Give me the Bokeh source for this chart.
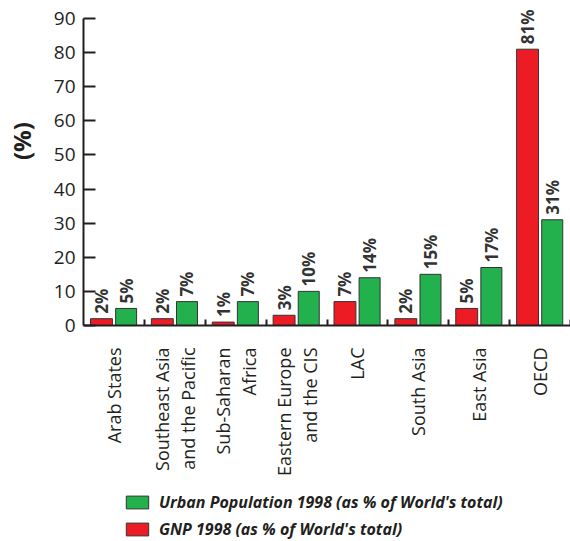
import numpy as np
from bokeh.plotting import figure
from bokeh.layouts import column
from bokeh.models import (ColumnDataSource, Range1d, FixedTicker, Legend, LegendItem)
from bokeh.embed import file_html
from bokeh.resources import INLINE
from bokeh.core.properties import value

regions = ["Arab States", "Southeast Asia\nand the Pacific", "Sub-Saharan\nAfrica",
           "Eastern Europe\nand the CIS", "LAC", "South Asia", "East Asia", "OECD"]
gnp = [2, 2, 1, 3, 7, 2, 5, 81]
urban = [5, 7, 7, 10, 14, 15, 17, 31]
gnp_labels = [f"{v}%" for v in gnp]
urban_labels = [f"{v}%" for v in urban]
y_ticks = [0, 10, 20, 30, 40, 50, 60, 70, 80, 90]
series_names = ["Urban Population 1998 (as % of World's total)",
                "GNP 1998 (as % of World's total)"]

RED = "#ED1C24"
GREEN = "#22B14C"
INK = "#231F20"
FONT = "Open Sans"

idx = np.arange(len(regions))
src = ColumnDataSource(dict(
    xg=idx + 0.295, xu=idx + 0.70,
    gnp=gnp, urban=urban, gl=gnp_labels, ul=urban_labels))

p = figure(width=570, height=490, output_backend="svg", toolbar_location=None,
           x_range=Range1d(0, len(regions)), y_range=Range1d(0, 95.28),
           min_border_left=83, min_border_right=0, min_border_top=0,
           min_border_bottom=165)
p.outline_line_color = None
p.xgrid.visible = False
p.ygrid.visible = False
p.background_fill_color = "white"

rg = p.vbar(x="xg", top="gnp", width=0.36, bottom=0, source=src,
            fill_color=RED, line_color="#333333", line_width=1)
rug = p.vbar(x="xu", top="urban", width=0.345, bottom=0, source=src,
             fill_color=GREEN, line_color="#333333", line_width=1)

for xc, yc, tc in (("xg", "gnp", "gl"), ("xu", "urban", "ul")):
    p.text(x=xc, y=yc, text=tc, source=src, angle=np.pi / 2,
           text_align="left", text_baseline="middle", y_offset=-5,
           text_font=value(FONT), text_font_size="17px", text_font_style="bold",
           text_color="#333333")

# y axis
ya = p.yaxis[0]
ya.ticker = FixedTicker(ticks=y_ticks)
ya.bounds = (0, 90)
ya.axis_line_width = 2
ya.axis_line_color = INK
ya.major_tick_in = 12
ya.major_tick_out = 0
ya.major_tick_line_width = 2
ya.major_tick_line_color = INK
ya.minor_tick_line_color = None
ya.major_label_text_font = FONT
ya.major_label_text_font_size = "19px"
ya.major_label_text_color = INK
ya.major_label_standoff = 8
ya.axis_label = "\u00a0" * 7 + "(%)"
ya.axis_label_text_font = FONT
ya.axis_label_text_font_size = "24px"
ya.axis_label_text_font_style = "bold"
ya.axis_label_text_color = INK
ya.axis_label_standoff = 13

# x axis
xa = p.xaxis[0]
xa.ticker = FixedTicker(ticks=list(idx + 0.5), minor_ticks=list(idx + 1))
xa.major_label_overrides = {float(i + 0.5): r for i, r in enumerate(regions)}
xa.axis_line_width = 2
xa.axis_line_color = INK
xa.major_tick_line_color = None
xa.major_tick_in = 0
xa.major_tick_out = 0
xa.minor_tick_in = 6
xa.minor_tick_out = 0
xa.minor_tick_line_width = 2
xa.minor_tick_line_color = INK
xa.major_label_orientation = np.pi / 2
xa.major_label_text_font = FONT
xa.major_label_text_font_size = "18px"
xa.major_label_text_color = INK
xa.major_label_text_line_height = 1.08
xa.major_label_standoff = 22

# legend strip below the chart; its key bars use the same data but lie
# outside this strip's visible range, so only the legend swatches show
leg = figure(width=570, height=51, output_backend="svg", toolbar_location=None,
             x_axis_type=None, y_axis_type=None,
             x_range=Range1d(0, len(regions)), y_range=Range1d(500, 501),
             min_border_left=83, min_border_right=0, min_border_top=0,
             min_border_bottom=0)
leg.outline_line_color = None
leg.xgrid.visible = False
leg.ygrid.visible = False
key_u = leg.vbar(x="xu", top="urban", width=0.345, bottom=0, source=src,
                 fill_color=GREEN, line_color="#333333", line_width=1)
key_g = leg.vbar(x="xg", top="gnp", width=0.36, bottom=0, source=src,
                 fill_color=RED, line_color="#333333", line_width=1)
legend = Legend(items=[LegendItem(label=series_names[0], renderers=[key_u], index=0),
                       LegendItem(label=series_names[1], renderers=[key_g], index=0)],
                location=(40, 1), orientation="vertical",
                glyph_width=28, glyph_height=16, label_height=22, spacing=5,
                padding=0, margin=0, label_standoff=8,
                label_text_font=FONT, label_text_font_size="16px",
                label_text_font_style="bold italic", label_text_color=INK,
                border_line_color=None, background_fill_alpha=0)
leg.add_layout(legend)

open("out.html", "w").write(file_html(column(p, leg, spacing=0), INLINE))
